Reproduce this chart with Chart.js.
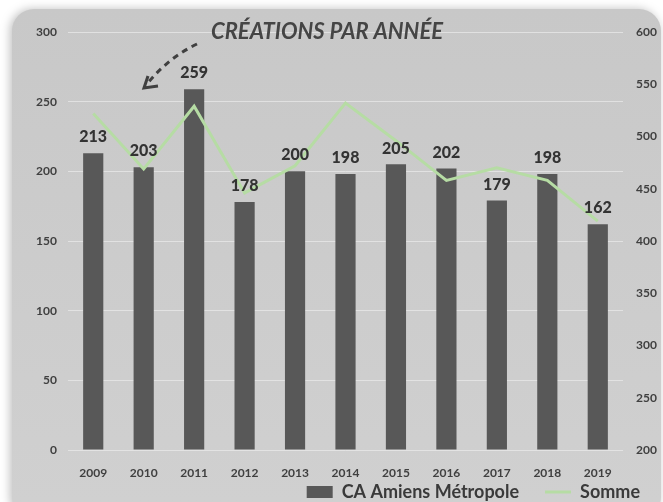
<!DOCTYPE html>
<html>
<head>
<meta charset="utf-8">
<script src="https://cdn.jsdelivr.net/npm/chart.js@4"></script>
<style>
  html, body { margin: 0; padding: 0; background: #fff; }
  #wrap { width: 663px; height: 502px; }
</style>
</head>
<body>
<div id="wrap"><canvas id="chart"></canvas></div>
<script>
var years = ["2009","2010","2011","2012","2013","2014","2015","2016","2017","2018","2019"];
var amiens = [213,203,259,178,200,198,205,202,179,198,162];
var somme = [522,469,529,446,472,532,496,458,470,458,419];

var font = "Lato, 'DejaVu Sans', sans-serif";

// grey rounded panel behind everything, plus legend placement
var panel = {
  id: "panel",
  beforeLayout: function (chart) {
    var lg = chart.legend;
    if (lg && !lg._fixed) {
      var fit = lg.fit;
      lg.fit = function () {
        fit.call(this);
        this.height = 24;
      };
      lg._fixed = true;
    }
  },
  afterLayout: function (chart) {
    chart.legend.top -= 21;
    chart.legend.left += 3;
    chart.legend.right += 3;
  },
  beforeDraw: function (chart) {
    var c = chart.ctx;
    c.save();
    c.shadowColor = "rgba(0,0,0,0.25)";
    c.shadowBlur = 10;
    c.shadowOffsetX = -2;
    var g = c.createLinearGradient(0, 9, 0, 502);
    g.addColorStop(0, "#c8c8c8");
    g.addColorStop(1, "#d0d0d0");
    c.fillStyle = g;
    c.beginPath();
    c.roundRect(12, 9, 649, 510, 22);
    c.fill();
    c.restore();
  }
};

// value labels above bars, title and dashed arrow
var extras = {
  id: "extras",
  afterDatasetsDraw: function (chart) {
    var c = chart.ctx;
    c.save();
    var meta = chart.getDatasetMeta(0);
    c.font = "900 16px " + font;
    c.fillStyle = "#333333";
    c.textAlign = "center";
    c.textBaseline = "middle";
    meta.data.forEach(function (bar, i) {
      c.fillText(amiens[i], bar.x, bar.y - 16);
    });

    c.font = "italic bold 22px " + font;
    c.fillStyle = "#454545";
    c.fillText("CRÉATIONS PAR ANNÉE", 327, 32);

    c.strokeStyle = "#404040";
    c.lineWidth = 3;
    c.setLineDash([6, 5]);
    c.beginPath();
    c.moveTo(197, 44);
    c.quadraticCurveTo(168, 58, 147, 84);
    c.stroke();
    c.setLineDash([]);
    c.beginPath();
    c.moveTo(148, 76);
    c.lineTo(144, 88);
    c.lineTo(158, 86);
    c.stroke();
    c.restore();
  }
};

new Chart(document.getElementById("chart"), {
  type: "bar",
  data: {
    labels: years,
    datasets: [
      {
        label: "CA Amiens Métropole",
        data: amiens,
        backgroundColor: "#585858",
        borderWidth: 0,
        barPercentage: 0.4,
        categoryPercentage: 1,
        yAxisID: "y",
        order: 2
      },
      {
        type: "line",
        label: "Somme",
        data: somme,
        borderColor: "#b6dca4",
        backgroundColor: "#b6dca4",
        borderWidth: 3,
        pointRadius: 0,
        tension: 0,
        yAxisID: "y1",
        order: 1
      }
    ]
  },
  options: {
    responsive: true,
    maintainAspectRatio: false,
    animation: false,
    layout: { padding: { top: 32, left: 0, right: 0, bottom: 0 } },
    plugins: {
      tooltip: { enabled: false },
      legend: {
        position: "bottom",
        align: "end",
        labels: {
          color: "#3a3a3a",
          font: { family: font, size: 18, weight: "bold" },
          usePointStyle: true,
          pointStyleWidth: 26,
          boxHeight: 12,
          padding: 26,
          generateLabels: function (chart) {
            var items = Chart.defaults.plugins.legend.labels.generateLabels(chart);
            items.sort(function (a, b) { return a.datasetIndex - b.datasetIndex; });
            items.forEach(function (it) {
              it.pointStyle = it.datasetIndex === 0 ? "rect" : "line";
              if (it.datasetIndex === 1) it.lineWidth = 3;
            });
            return items;
          }
        }
      }
    },
    scales: {
      x: {
        grid: { display: false },
        border: { display: false },
        ticks: { color: "#404040", font: { family: font, size: 12, weight: "bold" }, padding: 8 },
        afterFit: function (s) { s.height = 28; }
      },
      y: {
        position: "left",
        min: 0, max: 300,
        ticks: { stepSize: 50, color: "#404040", font: { family: font, size: 12, weight: "bold" }, padding: 11 },
        grid: { color: "rgba(235,235,235,0.7)", drawTicks: false },
        border: { display: false },
        afterFit: function (s) { s.width = 68; }
      },
      y1: {
        position: "right",
        min: 200, max: 600,
        ticks: { stepSize: 50, color: "#404040", font: { family: font, size: 12, weight: "bold" }, padding: 13 },
        grid: { display: false, drawTicks: false },
        border: { display: false },
        afterFit: function (s) { s.width = 40; }
      }
    }
  },
  plugins: [panel, extras]
});
</script>
</body>
</html>
